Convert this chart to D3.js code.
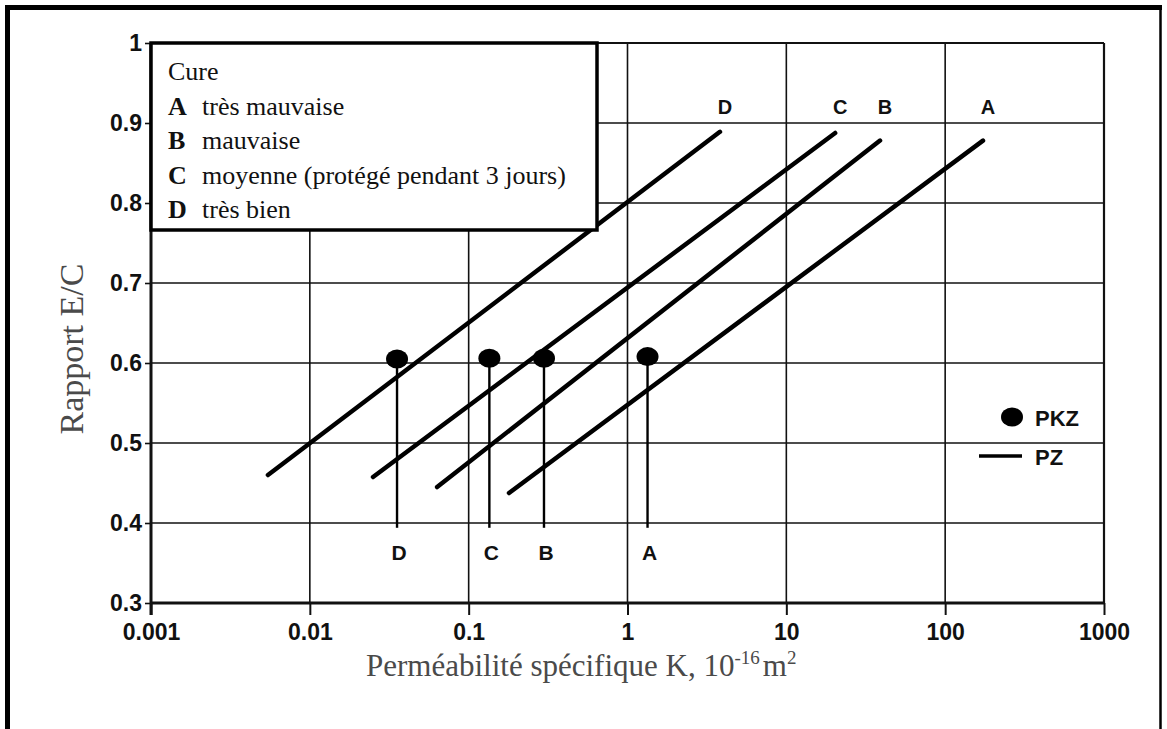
<!DOCTYPE html>
<html>
<head>
<meta charset="utf-8">
<script src="https://cdn.jsdelivr.net/npm/d3@7"></script>
<style>
  html, body { margin: 0; padding: 0; background: #fff; }
  svg { display: block; }
</style>
</head>
<body>
<svg id="chart" width="1167" height="729"></svg>
<script>
// ---------- data ----------
const xTicks = [0.001, 0.01, 0.1, 1, 10, 100, 1000];
const xTickLabels = ["0.001", "0.01", "0.1", "1", "10", "100", "1000"];
const yTicks = [0.3, 0.4, 0.5, 0.6, 0.7, 0.8, 0.9, 1];
const yTickLabels = ["0.3", "0.4", "0.5", "0.6", "0.7", "0.8", "0.9", "1"];

const cures = ["A", "B", "C", "D"];
const cureDescriptions = ["très mauvaise", "mauvaise", "moyenne (protégé pendant 3 jours)", "très bien"];

// PZ lines (start and end of each straight line)
const pzStartK  = [0.1795, 0.0633, 0.025, 0.00545];
const pzStartEC = [0.4375, 0.445, 0.4575, 0.46];
const pzEndK    = [173, 38.9, 20.3, 3.82];
const pzEndEC   = [0.878, 0.878, 0.8875, 0.889];

// PKZ points
const pkzK  = [1.337, 0.298, 0.135, 0.0354];
const pkzEC = [0.608, 0.606, 0.606, 0.605];
const pkzStemBaseEC = [0.394, 0.394, 0.394, 0.394];
const pkzLabelEC = 0.3625;
const pzLabelEC = 0.92;

// ---------- layout ----------
const svg = d3.select("#chart");
const x = d3.scaleLog().domain([0.001, 1000]).range([151, 1104]);
const y = d3.scaleLinear().domain([0.3, 1]).range([603, 43]);
const ink = "#111";

// outer frame
svg.append("line").attr("x1", 7.5).attr("x2", 7.5).attr("y1", 5).attr("y2", 729).attr("stroke", "#000").attr("stroke-width", 5);
svg.append("line").attr("x1", 5).attr("x2", 1162).attr("y1", 7.5).attr("y2", 7.5).attr("stroke", "#000").attr("stroke-width", 5);
svg.append("line").attr("x1", 1160.5).attr("x2", 1160.5).attr("y1", 5).attr("y2", 729).attr("stroke", "#000").attr("stroke-width", 2.5);

// gridlines
const grid = svg.append("g");
grid.selectAll("line.v").data(xTicks.slice(1, -1)).join("line")
  .attr("x1", d => x(d)).attr("x2", d => x(d))
  .attr("y1", y(1)).attr("y2", y(0.3))
  .attr("stroke", ink).attr("stroke-width", 1.6);
grid.selectAll("line.h").data(yTicks.slice(1, -1)).join("line")
  .attr("x1", x(0.001)).attr("x2", x(1000))
  .attr("y1", d => y(d)).attr("y2", d => y(d))
  .attr("stroke", ink).attr("stroke-width", 1.6);

// plot border
svg.append("line").attr("x1", x(0.001)).attr("x2", x(1000)).attr("y1", y(1)).attr("y2", y(1)).attr("stroke", ink).attr("stroke-width", 2);
svg.append("line").attr("x1", x(1000)).attr("x2", x(1000)).attr("y1", y(1)).attr("y2", y(0.3)).attr("stroke", ink).attr("stroke-width", 2.2);

// axes
const xAxis = d3.axisBottom(x).tickValues(xTicks).tickFormat((d, i) => xTickLabels[i]).tickSize(12).tickPadding(9);
const gx = svg.append("g").attr("transform", `translate(0,${y(0.3)})`).call(xAxis);
gx.select(".domain").attr("stroke", ink).attr("stroke-width", 3).attr("d", `M${x(0.001)},0H${x(1000)}`);
gx.selectAll(".tick line").attr("stroke", ink).attr("stroke-width", 2);
gx.selectAll(".tick text").attr("font-family", "Liberation Sans, Arial, sans-serif").attr("font-weight", "bold")
  .attr("font-size", 23).attr("fill", ink);

const yAxis = d3.axisLeft(y).tickValues(yTicks).tickFormat((d, i) => yTickLabels[i]).tickSize(6).tickPadding(3);
const gy = svg.append("g").attr("transform", `translate(${x(0.001)},0)`).call(yAxis);
gy.select(".domain").attr("stroke", ink).attr("stroke-width", 3).attr("d", `M0,${y(1)}V${y(0.3) + 12}`);
gy.selectAll(".tick line").attr("stroke", ink).attr("stroke-width", 1.6);
gy.selectAll(".tick text").attr("font-family", "Liberation Sans, Arial, sans-serif").attr("font-weight", "bold")
  .attr("font-size", 23).attr("fill", ink);

// PZ lines
svg.append("g").selectAll("line").data(cures).join("line")
  .attr("x1", (d, i) => x(pzStartK[i])).attr("y1", (d, i) => y(pzStartEC[i]))
  .attr("x2", (d, i) => x(pzEndK[i])).attr("y2", (d, i) => y(pzEndEC[i]))
  .attr("stroke", "#000").attr("stroke-width", 4.5).attr("stroke-linecap", "round");

// PZ labels
svg.append("g").selectAll("text").data(cures).join("text")
  .attr("x", (d, i) => x(pzEndK[i]) + 5).attr("y", y(pzLabelEC))
  .attr("dy", "0.35em").attr("text-anchor", "middle")
  .attr("font-family", "Liberation Sans, Arial, sans-serif").attr("font-weight", "bold")
  .attr("font-size", 20).attr("fill", ink).text(d => d);

// PKZ stems
svg.append("g").selectAll("line").data(cures).join("line")
  .attr("x1", (d, i) => x(pkzK[i])).attr("x2", (d, i) => x(pkzK[i]))
  .attr("y1", (d, i) => y(pkzEC[i])).attr("y2", (d, i) => y(pkzStemBaseEC[i]))
  .attr("stroke", "#000").attr("stroke-width", 2.4);

// PKZ points
svg.append("g").selectAll("ellipse").data(cures).join("ellipse")
  .attr("cx", (d, i) => x(pkzK[i])).attr("cy", (d, i) => y(pkzEC[i]))
  .attr("rx", 11).attr("ry", 9.5).attr("fill", "#000");

// PKZ labels
svg.append("g").selectAll("text").data(cures).join("text")
  .attr("x", (d, i) => x(pkzK[i]) + 2).attr("y", y(pkzLabelEC))
  .attr("dy", "0.35em").attr("text-anchor", "middle")
  .attr("font-family", "Liberation Sans, Arial, sans-serif").attr("font-weight", "bold")
  .attr("font-size", 21).attr("fill", ink).text(d => d);

// Legend box (Cure)
const lg = svg.append("g");
lg.append("rect").attr("x", x(0.001)).attr("y", y(1))
  .attr("width", 446).attr("height", 187)
  .attr("fill", "#fff").attr("stroke", "#000").attr("stroke-width", 3.5);
lg.append("text").attr("x", 168).attr("y", 80)
  .attr("font-family", "Liberation Serif, Times New Roman, serif").attr("font-size", 26).attr("fill", ink).text("Cure");
const rows = lg.selectAll("g.row").data(cures).join("g")
  .attr("transform", (d, i) => `translate(0,${115 + i * 34.4})`);
rows.append("text").attr("x", 168)
  .attr("font-family", "Liberation Serif, Times New Roman, serif").attr("font-weight", "bold")
  .attr("font-size", 26).attr("fill", ink).text(d => d);
rows.append("text").attr("x", 202)
  .attr("font-family", "Liberation Serif, Times New Roman, serif")
  .attr("font-size", 26).attr("fill", ink).text((d, i) => cureDescriptions[i]);

// Right legend (PKZ / PZ)
const rl = svg.append("g");
rl.append("ellipse").attr("cx", 1012).attr("cy", 417).attr("rx", 11).attr("ry", 9.5).attr("fill", "#000");
rl.append("text").attr("x", 1035).attr("y", 418).attr("dy", "0.35em")
  .attr("font-family", "Liberation Sans, Arial, sans-serif").attr("font-weight", "bold")
  .attr("font-size", 22).attr("fill", ink).text("PKZ");
rl.append("line").attr("x1", 979).attr("x2", 1022).attr("y1", 456).attr("y2", 456)
  .attr("stroke", "#000").attr("stroke-width", 3.5);
rl.append("text").attr("x", 1035).attr("y", 457).attr("dy", "0.35em")
  .attr("font-family", "Liberation Sans, Arial, sans-serif").attr("font-weight", "bold")
  .attr("font-size", 22).attr("fill", ink).text("PZ");

// Axis titles
const xt = svg.append("text").attr("x", 366).attr("y", 676)
  .attr("font-family", "Liberation Serif, Times New Roman, serif").attr("font-size", 31).attr("fill", "#4a4a4a");
xt.append("tspan").text("Perméabilité spécifique K, 10");
xt.append("tspan").attr("dy", -12).attr("font-size", 19).text("-16");
xt.append("tspan").attr("dy", 12).attr("dx", 3).text("m");
xt.append("tspan").attr("dy", -12).attr("font-size", 19).text("2");

svg.append("text").attr("transform", "translate(83,349) rotate(-90)")
  .attr("text-anchor", "middle")
  .attr("font-family", "Liberation Serif, Times New Roman, serif").attr("font-size", 34).attr("fill", "#4a4a4a")
  .text("Rapport E/C");
</script>
</body>
</html>
